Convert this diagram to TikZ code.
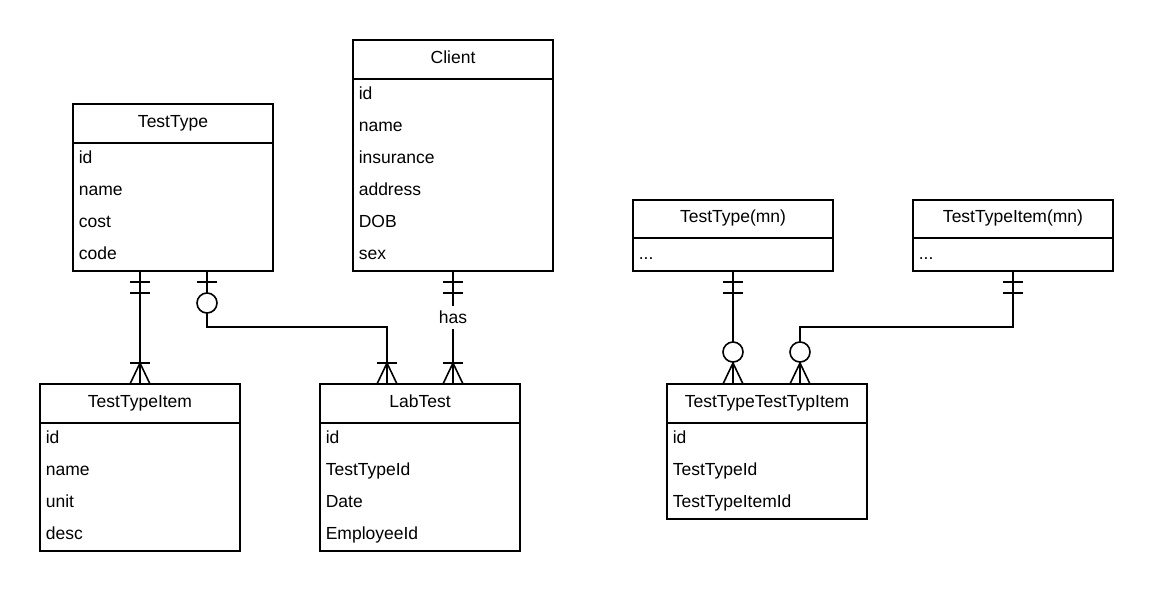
\documentclass[tikz,border=0pt]{standalone}
\usepackage{fontspec}
\setmainfont{Liberation Sans}
\usetikzlibrary{calc}
\tikzset{
  ebox/.style={draw, minimum width=200pt, inner sep=0pt, outer sep=0pt},
  etitle/.style={anchor=base, inner sep=0pt, font=\fontsize{17.5}{20}\selectfont},
  erow/.style={anchor=base west, inner sep=0pt, font=\fontsize{17.5}{20}\selectfont},
  conn/.style={draw},
  lbl/.style={fill=white, inner xsep=2pt, inner ysep=5pt, font=\fontsize{17.5}{20}\selectfont},
}
\newcommand\entbox[6]{%
  \node[ebox, minimum height=#4pt, anchor=north west] (#1) at (#2,#3) {};
  \draw ($(#1.north west)+(0,39)$) -- ($(#1.north east)+(0,39)$);
  \node[etitle] (#1-t) at ($(#1.north)+(0,23)$) {#5};
  \foreach \r [count=\i from 0] in {#6} {\node[erow] (#1-\i) at ($(#1.north west)+(5,59+32*\i)$) {\r};}
}
\newcommand\onemand[2]{%
  \draw (#1) ++(-10,11*#2) -- ++(20,0);
  \draw (#1) ++(-10,22*#2) -- ++(20,0);}
\newcommand\oneopt[2]{%
  \draw (#1) ++(-10,11*#2) -- ++(20,0);
  \draw[fill=white] (#1) ++(0,32*#2) circle[radius=10];}
\newcommand\manymand[2]{%
  \draw (#1) ++(-10,0) -- ++(10,21*#2) -- ++(10,-21*#2);
  \draw (#1) ++(-10,21*#2) -- ++(20,0);}
\newcommand\manyopt[2]{%
  \draw (#1) ++(-10,0) -- ++(10,21*#2) -- ++(10,-21*#2);
  \draw[fill=white] (#1) ++(0,32*#2) circle[radius=10];}
\begin{document}
\begin{tikzpicture}[x=1pt,y=-1pt,line width=1.6pt]
\useasboundingbox (0,0) rectangle (1153,592);
\entbox{tt}{73}{104}{167}{TestType}{id,name,cost,code}
\entbox{cl}{353}{40}{231}{Client}{id,name,insurance,address,DOB,sex}
\entbox{ti}{40}{384}{167}{TestTypeItem}{id,name,unit,desc}
\entbox{lt}{320}{384}{167}{LabTest}{id,TestTypeId,Date,EmployeeId}
\entbox{tt3}{667}{384}{135}{TestTypeTestTypItem}{id,TestTypeId,TestTypeItemId}
\node[ebox, minimum height=71pt, anchor=north west] (m1) at (633,200) {};
\draw ($(m1.north west)+(0,38)$) -- ($(m1.north east)+(0,38)$);
\node[etitle] (m1-t) at ($(m1.north)+(0,22)$) {TestType(mn)};
\node[erow] (m1-0) at ($(m1.north west)+(5,59)$) {...};
\node[ebox, minimum height=71pt, anchor=north west] (m2) at (913,200) {};
\draw ($(m2.north west)+(0,38)$) -- ($(m2.north east)+(0,38)$);
\node[etitle] (m2-t) at ($(m2.north)+(0,22)$) {TestTypeItem(mn)};
\node[erow] (m2-0) at ($(m2.north west)+(5,59)$) {...};
% coordinates
\coordinate (a1) at (ti.north |- tt.south);
\coordinate (c2a) at ($(tt.south west)+(134,0)$);
\coordinate (c2b) at ($(lt.north west)+(67,0)$);
\coordinate (c3b) at (cl.south |- lt.north);
\coordinate (c4b) at (m1.south |- tt3.north);
\coordinate (c5b) at ($(tt3.north west)+(133,0)$);
% connectors
\draw (a1) -- (ti.north);
\draw (c2a) -- ++(0,56) -| (c2b);
\draw (cl.south) -- node[lbl, pos=0.41] (has) {has} (c3b);
\draw (m1.south) -- (c4b);
\draw (m2.south) -- ++(0,56) -| (c5b);
% markers
\onemand{a1}{1}
\manymand{ti.north}{-1}
\oneopt{c2a}{1}
\manymand{c2b}{-1}
\onemand{cl.south}{1}
\manymand{c3b}{-1}
\onemand{m1.south}{1}
\manyopt{c4b}{-1}
\onemand{m2.south}{1}
\manyopt{c5b}{-1}
\end{tikzpicture}
\end{document}
